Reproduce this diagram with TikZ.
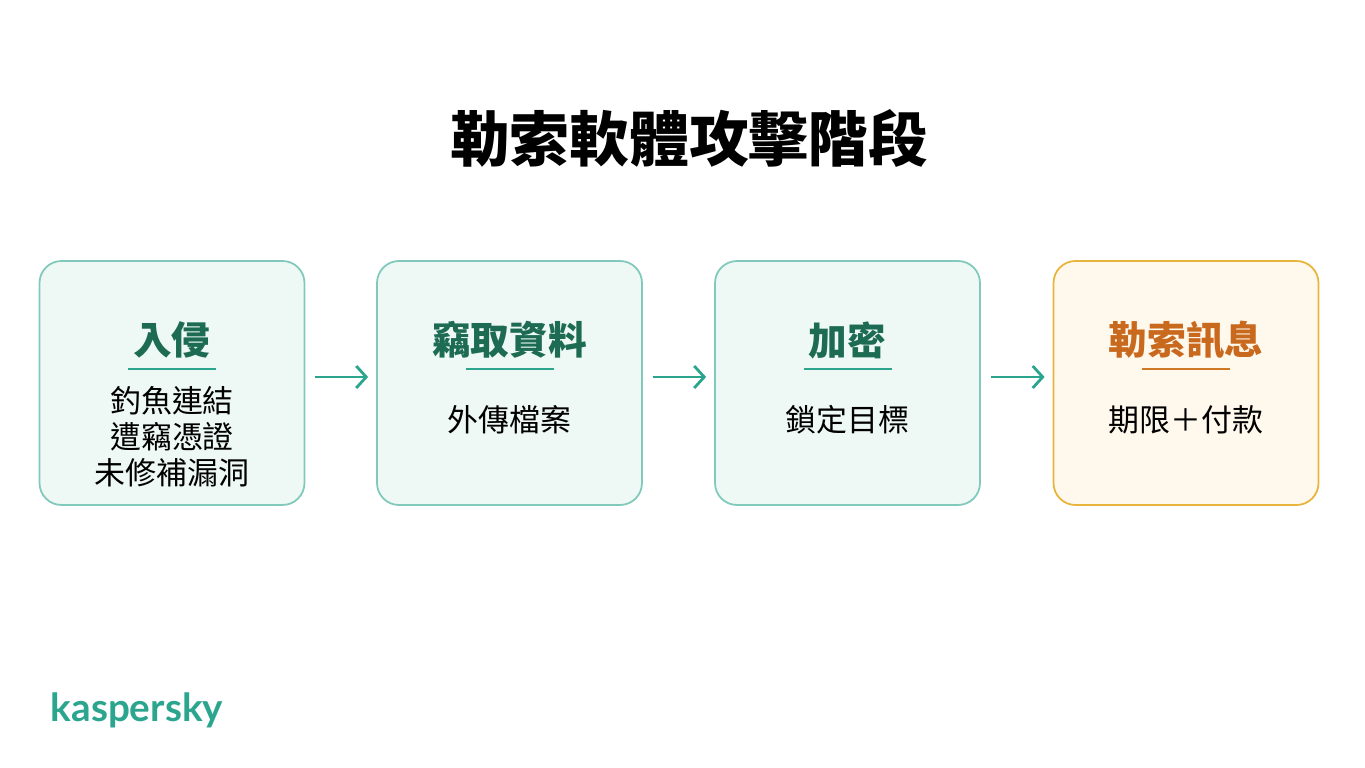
\documentclass[tikz,border=0pt]{standalone}
\usepackage{fontspec}
\setmainfont{Noto Sans CJK TC}
\newfontfamily\logofont{Lato}
\usetikzlibrary{positioning,arrows.meta}
\definecolor{kgreen}{HTML}{2BA58E}
\definecolor{kdark}{HTML}{1D6B52}
\definecolor{kfill}{HTML}{EEF8F5}
\definecolor{korange}{HTML}{C8691E}
\definecolor{kline}{HTML}{E8B43C}
\definecolor{kofill}{HTML}{FFF8EC}
\tikzset{
  stage/.style={draw=kgreen!60, fill=kfill, rounded corners=0.22cm, line width=0.5pt,
    minimum width=2.65cm, minimum height=2.44cm},
  hot/.style={stage, draw=kline, fill=kofill},
  head/.style={font=\fontsize{11}{13}\selectfont\bfseries, text=kdark, inner sep=0pt},
  body/.style={font=\fontsize{8.8}{10.2}\selectfont, align=center, inner sep=0pt},
  flow/.style={-{Straight Barb[length=0.1cm,width=0.22cm]}, draw=kgreen, line width=0.8pt,
    shorten <=0.1cm, shorten >=0.08cm}
}
\begin{document}
\begin{tikzpicture}
    \useasboundingbox (0,0) rectangle (13.65,-7.68);
    \node[font=\fontsize{17}{20}\selectfont\bfseries] (title) at (6.89,-1.38) {勒索軟體攻擊階段};

    \node[stage] (s1) at (1.72,-3.83) {};
    \node[stage] (s2) at (5.095,-3.83) {};
    \node[stage] (s3) at (8.475,-3.83) {};
    \node[hot] (s4) at (11.86,-3.83) {};

    % headings
    \node[head] (h1) at (1.72,-3.40) {入侵};
    \node[head] (h2) at (5.095,-3.40) {竊取資料};
    \node[head] (h3) at (8.475,-3.40) {加密};
    \node[head, text=korange] (h4) at (11.86,-3.40) {勒索訊息};
    \foreach \i in {1,2,3}
      \draw[kgreen, line width=0.7pt] ([xshift=-0.44cm,yshift=-0.29cm]h\i.center) -- ++(0.88,0);
    \draw[korange!80!kline, line width=0.7pt] ([xshift=-0.44cm,yshift=-0.29cm]h4.center) -- ++(0.88,0);

    % details
    \node[body] (b1) at (1.72,-4.37) {釣魚連結\\遭竊憑證\\未修補漏洞};
    \node[body] (b2) at (5.095,-4.20) {外傳檔案};
    \node[body] (b3) at (8.475,-4.20) {鎖定目標};
    \node[body] (b4) at (11.86,-4.20) {期限＋付款};

    \draw[flow] (s1.east |- 0,-3.77) -- (s2.west |- 0,-3.77);
    \draw[flow] (s2.east |- 0,-3.77) -- (s3.west |- 0,-3.77);
    \draw[flow] (s3.east |- 0,-3.77) -- (s4.west |- 0,-3.77);

    \node[font=\logofont\fontsize{11}{13}\selectfont\bfseries, text=kgreen, anchor=west, inner sep=0pt] (logo) at (0.50,-7.10) {kaspersky};
\end{tikzpicture}
\end{document}
